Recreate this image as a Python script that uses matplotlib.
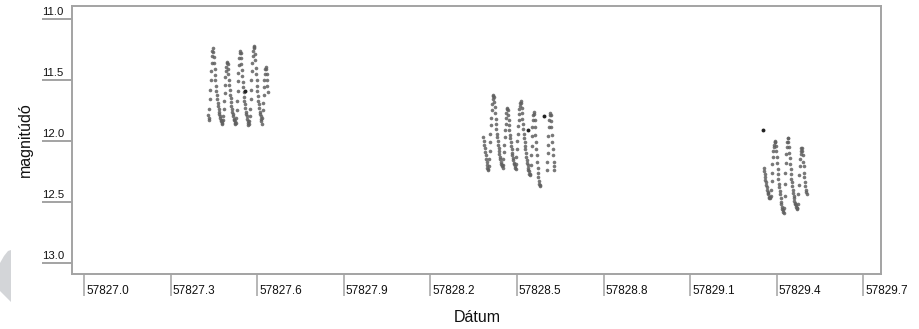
import numpy as np
import matplotlib
matplotlib.use("Agg")
import matplotlib.pyplot as plt
from matplotlib.patches import Polygon

# éjszakák (Julian-dátum egész része) és a napon belüli időpontok
c1_day = 57827
c1_frac = [
    .4300, .4315, .4330, .4345, .4360, .4375, .4390, .4405, .4420, .4435, .4450, .4465,
    .4480, .4495, .4510, .4525, .4540, .4555, .4570, .4585, .4600, .4615, .4630, .4645,
    .4660, .4675, .4690, .4705, .4720, .4735, .4750, .4765, .4780, .4795,
    .4810, .4825, .4840, .4855, .4870, .4885, .4900, .4915, .4930, .4945, .4960,
    .4975, .4990, .5005, .5020, .5035, .5050, .5065, .5080, .5095, .5110, .5125, .5140,
    .5155, .5170, .5185, .5200, .5215, .5230, .5245,
    .5260, .5275, .5290, .5305, .5320, .5335, .5350, .5365, .5380, .5395, .5410,
    .5425, .5440, .5455, .5470, .5485, .5500, .5515, .5530, .5545, .5560, .5575, .5590,
    .5605, .5620, .5635, .5650, .5665, .5680, .5695, .5710,
    .5725, .5740, .5755, .5770, .5785, .5800, .5815, .5830, .5845, .5860, .5875, .5890,
    .5905, .5920, .5935, .5950, .5965, .5980, .5995, .6010, .6025, .6040, .6055, .6070,
    .6085, .6100, .6115, .6130, .6145,
    .6160, .6175, .6190, .6205, .6220, .6235, .6250, .6265, .6280, .6295,
    .6310, .6325, .6340, .6355, .6370,
]
c1_mag = [
    11.79, 11.83, 11.81, 11.74, 11.66, 11.58, 11.50, 11.43, 11.36, 11.30, 11.26, 11.24,
    11.27, 11.31, 11.36, 11.41, 11.46, 11.50, 11.55, 11.59, 11.62, 11.66, 11.69, 11.71,
    11.74, 11.76, 11.78, 11.80, 11.81, 11.83, 11.84, 11.85, 11.84, 11.86,
    11.83, 11.80, 11.74, 11.67, 11.61, 11.54, 11.48, 11.43, 11.39, 11.36, 11.35,
    11.37, 11.41, 11.45, 11.50, 11.54, 11.58, 11.62, 11.65, 11.68, 11.71, 11.74, 11.76,
    11.78, 11.80, 11.82, 11.83, 11.84, 11.85, 11.86,
    11.85, 11.81, 11.75, 11.67, 11.59, 11.51, 11.44, 11.38, 11.32, 11.28, 11.26,
    11.28, 11.32, 11.37, 11.42, 11.47, 11.52, 11.56, 11.60, 11.64, 11.67, 11.70, 11.73,
    11.76, 11.78, 11.80, 11.82, 11.84, 11.85, 11.87, 11.86,
    11.84, 11.80, 11.74, 11.66, 11.58, 11.50, 11.43, 11.36, 11.30, 11.26, 11.23, 11.22,
    11.24, 11.29, 11.34, 11.40, 11.45, 11.50, 11.55, 11.59, 11.63, 11.67, 11.70, 11.73,
    11.76, 11.78, 11.80, 11.82, 11.84,
    11.86, 11.81, 11.75, 11.69, 11.62, 11.56, 11.50, 11.45, 11.41, 11.39,
    11.41, 11.45, 11.50, 11.55, 11.60,
]

c2_day = 57828
c2_frac = [
    .3840, .3855, .3870, .3885, .3900, .3915, .3930, .3945, .3960, .3975, .3990, .4005,
    .4020, .4035, .4050, .4065, .4080, .4095, .4110, .4125, .4140, .4155, .4170, .4185,
    .4200, .4215, .4230, .4245, .4260, .4275, .4290, .4305, .4320, .4335, .4350, .4365,
    .4380, .4395, .4410, .4425, .4440, .4455, .4470, .4485, .4500,
    .4515, .4530, .4545, .4560, .4575, .4590, .4605, .4620, .4635, .4650, .4665,
    .4680, .4695, .4710, .4725, .4740, .4755, .4770, .4785, .4800, .4815, .4830, .4845,
    .4860, .4875, .4890, .4905, .4920, .4935,
    .4950, .4965, .4980, .4995, .5010, .5025, .5040, .5055, .5070, .5085, .5100, .5115, .5130,
    .5145, .5160, .5175, .5190, .5205, .5220, .5235, .5250, .5265, .5280, .5295, .5310,
    .5325, .5340, .5355, .5370, .5385, .5400, .5415, .5430, .5445,
    .5460, .5475, .5490, .5505, .5520, .5535, .5550, .5565, .5580,
    .5595, .5610, .5625, .5640, .5655, .5670, .5685, .5700, .5715, .5730, .5745, .5760,
    .5775, .5790, .5805,
    .6030, .6045, .6060, .6075, .6090, .6105, .6120, .6135, .6150,
    .6165, .6180, .6195, .6210, .6225, .6240, .6255, .6270, .6285, .6300,
]
c2_mag = [
    11.97, 12.00, 12.03, 12.06, 12.09, 12.12, 12.15, 12.17, 12.20, 12.22, 12.24, 12.23,
    12.21, 12.15, 12.08, 12.01, 11.94, 11.87, 11.81, 11.75, 11.70, 11.66, 11.63, 11.62,
    11.64, 11.68, 11.72, 11.77, 11.82, 11.86, 11.90, 11.94, 11.97, 12.00, 12.03, 12.06,
    12.08, 12.11, 12.13, 12.15, 12.17, 12.19, 12.20, 12.21, 12.22,
    12.20, 12.15, 12.09, 12.03, 11.97, 11.91, 11.86, 11.81, 11.77, 11.74, 11.73,
    11.75, 11.79, 11.83, 11.87, 11.91, 11.95, 11.98, 12.01, 12.04, 12.07, 12.10, 12.12,
    12.14, 12.16, 12.18, 12.19, 12.21, 12.22,
    12.23, 12.19, 12.13, 12.07, 12.00, 11.94, 11.88, 11.83, 11.78, 11.74, 11.71, 11.69, 11.67,
    11.69, 11.73, 11.77, 11.82, 11.86, 11.90, 11.94, 11.98, 12.01, 12.04, 12.07, 12.10,
    12.13, 12.16, 12.18, 12.20, 12.22, 12.24, 12.25, 12.27, 12.28,
    12.27, 12.20, 12.12, 12.04, 11.96, 11.89, 11.83, 11.79, 11.76,
    11.78, 11.83, 11.89, 11.95, 12.01, 12.07, 12.12, 12.17, 12.22, 12.26, 12.30, 12.33,
    12.35, 12.37, 12.36,
    12.24, 12.17, 12.10, 12.03, 11.96, 11.89, 11.83, 11.79, 11.77,
    11.79, 11.84, 11.89, 11.95, 12.01, 12.07, 12.12, 12.17, 12.21, 12.24,
]

c3_day = 57829
c3_frac = [
    .3550, .3565, .3580, .3595, .3610, .3625, .3640, .3655, .3670, .3685, .3700, .3715,
    .3730, .3745, .3760, .3775,
    .3790, .3805, .3820, .3835, .3850, .3865, .3880, .3895, .3910, .3925, .3940,
    .3955, .3970, .3985, .4000, .4015, .4030, .4045, .4060, .4075, .4090, .4105, .4120,
    .4135, .4150, .4165, .4180, .4195, .4210, .4225, .4240,
    .4255, .4270, .4285, .4300, .4315, .4330, .4345, .4360, .4375,
    .4390, .4405, .4420, .4435, .4450, .4465, .4480, .4495, .4510, .4525, .4540, .4555,
    .4570, .4585, .4600, .4615, .4630, .4645, .4660, .4675, .4690, .4705, .4720,
    .4735, .4750, .4765, .4780, .4795, .4810, .4825, .4840, .4855, .4870,
    .4885, .4900, .4915, .4930, .4945, .4960, .4975, .4990, .5005, .5020, .5035,
]
c3_mag = [
    12.22, 12.25, 12.27, 12.30, 12.32, 12.34, 12.36, 12.38, 12.40, 12.42, 12.43, 12.44,
    12.46, 12.47, 12.46, 12.47,
    12.45, 12.40, 12.33, 12.26, 12.19, 12.13, 12.08, 12.05, 12.03, 12.01, 12.00,
    12.01, 12.04, 12.08, 12.13, 12.18, 12.23, 12.27, 12.31, 12.35, 12.38, 12.41, 12.44,
    12.47, 12.50, 12.52, 12.54, 12.56, 12.57, 12.58, 12.59,
    12.55, 12.45, 12.35, 12.26, 12.18, 12.11, 12.05, 12.01, 11.98,
    11.98, 12.01, 12.05, 12.10, 12.14, 12.19, 12.23, 12.27, 12.31, 12.34, 12.37, 12.40,
    12.43, 12.45, 12.47, 12.49, 12.51, 12.52, 12.53, 12.54, 12.55, 12.55, 12.56,
    12.52, 12.44, 12.36, 12.28, 12.21, 12.15, 12.11, 12.08, 12.06, 12.06,
    12.08, 12.12, 12.17, 12.21, 12.26, 12.30, 12.34, 12.37, 12.40, 12.42, 12.44,
]

# kiugró (sötétebb) pontok
odd_t = [57827.558, 57828.540, 57828.592, 57829.353]
odd_mag = [11.59, 11.91, 11.80, 11.91]

x_ticks = [57827.0, 57827.3, 57827.6, 57827.9, 57828.2,
           57828.5, 57828.8, 57829.1, 57829.4, 57829.7]
y_ticks = [11.0, 11.5, 12.0, 12.5, 13.0]

W, H = 919, 329
fig = plt.figure(figsize=(W / 100, H / 100), dpi=100)
ax = fig.add_axes([72 / W, 1 - 274 / H, (881 - 72) / W, (274 - 6) / H])

gray = "#a3a3a3"
for t_day, frac, mag in [(c1_day, c1_frac, c1_mag),
                         (c2_day, c2_frac, c2_mag),
                         (c3_day, c3_frac, c3_mag)]:
    ax.plot(t_day + np.array(frac), mag, "o", ms=2.6, mew=0,
            color="#606060", alpha=0.85)
ax.plot(odd_t, odd_mag, "o", ms=2.8, mew=0, color="#222222")

ax.set_xlim(57826.9584, 57829.7613)
ax.set_ylim(13.0926, 10.8934)

for s in ax.spines.values():
    s.set_color(gray)
    s.set_linewidth(1.4)

ax.set_xticks(x_ticks)
ax.set_yticks(y_ticks)
ax.tick_params(axis="x", length=16, width=1.1, color=gray, labelbottom=False)
ax.tick_params(axis="y", length=21.6, width=1.4, color=gray, labelleft=False)

for v in x_ticks:
    ax.annotate(f"{v:.1f}", xy=(v, 0), xycoords=("data", "axes fraction"),
                xytext=(2, -17.5), textcoords="offset pixels",
                ha="left", va="center", fontsize=8.5,
                family="Liberation Sans", color="#111111")
for v in y_ticks:
    ax.annotate(f"{v:.1f}", xy=(0, v), xycoords=("axes fraction", "data"),
                xytext=(-30, 2), textcoords="offset pixels",
                ha="left", va="bottom", fontsize=8.2,
                family="Liberation Sans", color="#111111")

fig.text(25 / W, 1 - 140 / H, "magnitúdó", rotation=90, ha="center",
         va="center", fontsize=11.5, family="Liberation Sans", color="#111111")
fig.text(477 / W, 1 - 318 / H, "Dátum", ha="center", va="center",
         fontsize=11.5, family="Liberation Sans", color="#111111")

# szürke folt a bal alsó sarokban
pts = [(0, 263), (4, 256), (8, 251), (11, 250), (11, 302), (6, 297), (0, 291)]
fig.patches.append(Polygon([(x / W, 1 - y / H) for x, y in pts], closed=True,
                           transform=fig.transFigure, facecolor="#d3d5d8",
                           edgecolor="none"))

fig.savefig("out.png", dpi=100)
